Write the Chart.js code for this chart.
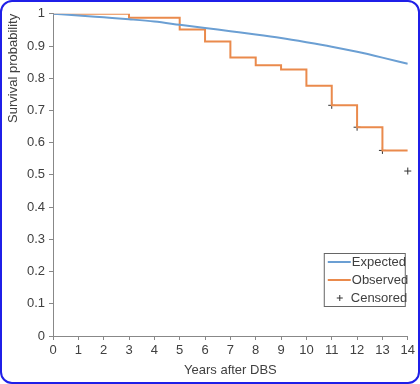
<!DOCTYPE html>
<html>
<head>
<meta charset="utf-8">
<script src="https://cdn.jsdelivr.net/npm/chart.js@4"></script>
<style>
  html, body { margin: 0; padding: 0; background: #fff; }
  #frame {
    width: 420px; height: 384px; box-sizing: border-box;
    border: 2px solid #1f1fe8; border-radius: 12px; overflow: hidden;
  }
  #chart { display: block; }
</style>
</head>
<body>
<div id="frame"><canvas id="chart" width="416" height="380"></canvas></div>
<script>
// =========================
// Data
// =========================

const years = [0, 1, 2, 3, 4, 5, 6, 7, 8, 9, 10, 11, 12, 13, 14];
const expected = [1, 0.995, 0.989, 0.983, 0.976, 0.966, 0.956, 0.946, 0.936, 0.925, 0.912, 0.898, 0.882, 0.864, 0.845];

// observed Kaplan-Meier steps (year at which the new value starts)
const stepYears = [0, 3, 5, 6, 7, 8, 9, 10, 11, 12, 13, 14];
const observed = [1, 0.988, 0.951, 0.914, 0.864, 0.84, 0.827, 0.777, 0.716, 0.648, 0.576, 0.576];

const censoredYears = [11, 12, 13, 14];
const censored = [0.716, 0.648, 0.576, 0.512];

const yTicks = [0, 0.1, 0.2, 0.3, 0.4, 0.5, 0.6, 0.7, 0.8, 0.9, 1];

const BLUE = "#6b9fd3";
const ORANGE = "#ea8a4c";
const TEXT = "#404040";
const FONT = "'Liberation Sans', Arial, sans-serif";

// =========================
// Legend drawn inside plot
// =========================

const boxLegend = {
  id: "boxLegend",
  afterDraw(chart) {
    const { ctx, chartArea } = chart;
    const right = chartArea.right - 2;
    const bottom = chartArea.bottom - 29;
    const w = 82, h = 54;
    const left = right - w, top = bottom - h;

    ctx.save();
    ctx.fillStyle = "#fff";
    ctx.fillRect(left, top, w, h);
    ctx.strokeStyle = "#666";
    ctx.lineWidth = 1;
    ctx.strokeRect(left + 0.5, top + 0.5, w - 1, h - 1);

    ctx.font = "13px " + FONT;
    ctx.fillStyle = TEXT;
    ctx.textBaseline = "middle";

    const rows = [
      { label: "Expected", color: BLUE },
      { label: "Observed", color: ORANGE },
      { label: "Censored", cross: true },
    ];
    rows.forEach((r, i) => {
      const y = top + 9 + i * 18;
      if (r.cross) {
        ctx.strokeStyle = "#333";
        ctx.beginPath();
        ctx.moveTo(left + 13, y);
        ctx.lineTo(left + 19, y);
        ctx.moveTo(left + 16, y - 3);
        ctx.lineTo(left + 16, y + 3);
        ctx.stroke();
        ctx.fillText(r.label, left + 27, y);
      } else {
        ctx.strokeStyle = r.color;
        ctx.lineWidth = 2;
        ctx.beginPath();
        ctx.moveTo(left + 4, y);
        ctx.lineTo(left + 27, y);
        ctx.stroke();
        ctx.lineWidth = 1;
        ctx.fillText(r.label, left + 28, y);
      }
    });
    ctx.restore();
  },
};

// =========================
// Chart
// =========================

new Chart(document.getElementById("chart"), {
  type: "line",
  data: {
    datasets: [
      {
        label: "Expected",
        data: years.map((x, i) => ({ x, y: expected[i] })),
        borderColor: BLUE,
        borderWidth: 2,
        pointRadius: 0,
        cubicInterpolationMode: "monotone",
      },
      {
        label: "Observed",
        data: stepYears.map((x, i) => ({ x, y: observed[i] })),
        borderColor: ORANGE,
        borderWidth: 2,
        pointRadius: 0,
        stepped: "before",
      },
      {
        label: "Censored",
        type: "scatter",
        data: censoredYears.map((x, i) => ({ x, y: censored[i] })),
        pointStyle: "cross",
        pointRadius: 3.5,
        borderColor: "#333",
        borderWidth: 1,
        showLine: false,
        clip: false,
      },
    ],
  },
  options: {
    responsive: false,
    animation: false,
    layout: { padding: { left: 0, right: 0, top: 10, bottom: 0 } },
    plugins: { legend: { display: false }, tooltip: { enabled: false } },
    scales: {
      x: {
        type: "linear",
        min: 0,
        max: 14,
        afterFit: (s) => { s.height = 46; },
        afterBuildTicks: (s) => { s.ticks = years.map((v) => ({ value: v })); },
        grid: { drawOnChartArea: false, tickLength: 4, color: "#888" },
        border: { color: "#888", width: 1 },
        ticks: {
          color: TEXT, font: { family: FONT, size: 13 }, padding: 3, maxRotation: 0,
          callback: (v) => String(v),
        },
        title: {
          display: true,
          text: "Years after DBS",
          color: TEXT,
          font: { family: FONT, size: 13 },
          padding: { top: 3 },
        },
      },
      y: {
        min: 0,
        max: 1,
        afterFit: (s) => { s.width = 51; },
        afterBuildTicks: (s) => { s.ticks = yTicks.map((v) => ({ value: v })); },
        grid: { drawOnChartArea: false, tickLength: 4, color: "#888" },
        border: { color: "#888", width: 1 },
        ticks: {
          color: TEXT, font: { family: FONT, size: 13 }, padding: 4,
          callback: (v) => String(Math.round(v * 10) / 10),
        },
        title: {
          display: true,
          text: "Survival probability",
          color: TEXT,
          align: "end",
          font: { family: FONT, size: 13 },
          padding: { bottom: 2 },
        },
      },
    },
  },
  plugins: [boxLegend],
});
</script>
</body>
</html>
